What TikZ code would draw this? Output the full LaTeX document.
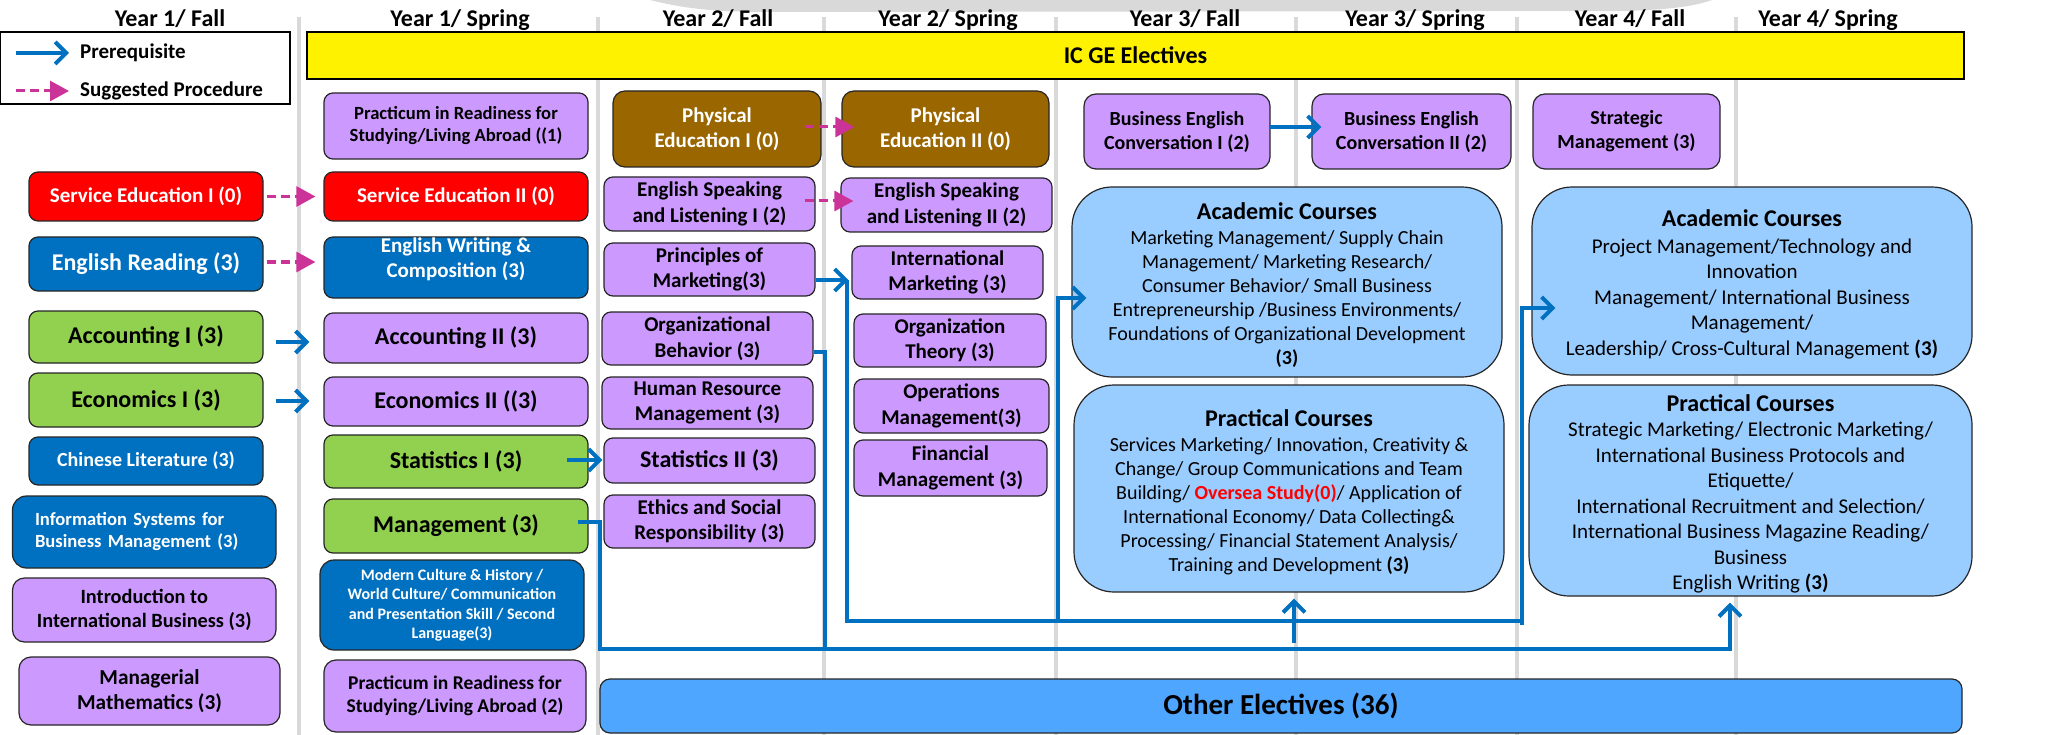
\documentclass[tikz,border=0pt]{standalone}
\usepackage{fontspec}
\setmainfont{Carlito}
\usetikzlibrary{arrows.meta}
\definecolor{cpurple}{RGB}{204,153,255}
\definecolor{cblue}{RGB}{0,112,192}
\definecolor{cgreen}{RGB}{146,208,80}
\definecolor{cred}{RGB}{255,0,0}
\definecolor{cbrown}{RGB}{153,102,0}
\definecolor{clight}{RGB}{153,204,255}
\definecolor{cother}{RGB}{79,166,255}
\definecolor{cmag}{RGB}{204,51,153}
\definecolor{cgrid}{RGB}{217,217,217}
\definecolor{cline}{RGB}{0,112,192}
\newcommand\fz[2]{\fontsize{#1}{#2}\selectfont}
\newcommand\ttl[1]{\rule{0pt}{24pt}{\fz{24}{29}\bfseries #1}}
\newcommand\bx[7]{%
 \pgfmathsetmacro\mybw{#4-#2}\pgfmathsetmacro\mybh{#5-#3}%
 \pgfmathsetmacro\mybcx{(#2+#4)/2}\pgfmathsetmacro\mybcy{(#3+#5)/2}%
 \node[#6, minimum width=\mybw pt, minimum height=\mybh pt] (#1) at (\mybcx,\mybcy) {#7};}
\tikzset{
 box/.style={draw=black!85, line width=1.2pt, rounded corners=9pt, align=center, inner sep=0pt},
 pur/.style={box, fill=cpurple, text=black},
 blu/.style={box, fill=cblue, text=white},
 grn/.style={box, fill=cgreen, text=black},
 rd/.style={box, fill=cred, text=white},
 brn/.style={box, fill=cbrown, text=white},
 big/.style={box, fill=clight, rounded corners=40pt},
 s16/.style={font=\fz{16}{19.5}\bfseries},
 s18/.style={font=\fz{18.6}{22}\bfseries},
 s19/.style={font=\fz{19.5}{23.5}\bfseries},
 s20/.style={font=\fz{20}{24}\bfseries},
 s21/.style={font=\fz{21}{25.5}\bfseries},
 s24/.style={font=\fz{24}{29}\bfseries},
 b20/.style={font=\fz{20}{24}\mdseries},
 b21/.style={font=\fz{21}{25.5}\mdseries},
 conn/.style={draw=cline, line width=4pt},
 pre/.style={conn, -{Straight Barb[length=11pt,width=22pt]}},
 sug/.style={draw=cmag, line width=3pt, dash pattern=on 9pt off 5pt, -{Triangle[length=19pt,width=20pt]}},
 hdr/.style={font=\fz{24}{29}\bfseries, anchor=base, inner sep=0pt},
 grid/.style={draw=cgrid, line width=3.5pt},
}
\begin{document}
\begin{tikzpicture}[x=1pt,y=-1pt]
\useasboundingbox (0,0) rectangle (2049,735);
\fill[white] (0,0) rectangle (2049,735);
% background decoration
\fill[cgrid] (650,0) .. controls (690,10) and (720,12) .. (780,12) -- (1620,11) .. controls (1670,10) and (1695,6) .. (1712,0) -- cycle;
\foreach \gx in {299,598,824,1056,1296,1517,1736} \draw[grid] (\gx,17) -- (\gx,735);

% headers
\node[hdr] (h1) at (170,27) {Year 1/ Fall};
\node[hdr] (h2) at (460,27) {Year 1/ Spring};
\node[hdr] (h3) at (718,27) {Year 2/ Fall};
\node[hdr] (h4) at (948,27) {Year 2/ Spring};
\node[hdr] (h5) at (1185,27) {Year 3/ Fall};
\node[hdr] (h6) at (1415,27) {Year 3/ Spring};
\node[hdr] (h7) at (1630,27) {Year 4/ Fall};
\node[hdr] (h8) at (1828,27) {Year 4/ Spring};

% legend
\bx{leg}{0}{32}{290}{104}{draw=black, line width=1.2pt, fill=white, inner sep=0pt}{}
\coordinate (lp1) at (16,53); \coordinate (lp2) at (69,53);
\coordinate (ls1) at (16,91); \coordinate (ls2) at (69,91);
\node[anchor=west, inner sep=0pt, font=\fz{21}{25}\bfseries] (lpt) at (80,53) {Prerequisite};
\node[anchor=west, inner sep=0pt, font=\fz{21}{25}\bfseries] (lst) at (80,91) {Suggested Procedure};

% IC GE bar
\bx{icge}{307}{32}{1964}{79}{draw=black, line width=2.7pt, fill=yellow, s24}{IC GE Electives}

% Year 1 Fall
\bx{svc1}{29}{172}{263}{221}{rd, s21}{Service Education I (0)}
\bx{engR}{29}{237}{263}{291}{blu, s24}{English Reading (3)}
\bx{acc1}{29}{311}{263}{363}{grn, s24}{Accounting I (3)}
\bx{eco1}{29}{373}{263}{427}{grn, s24}{Economics I (3)}
\bx{chi}{29}{437}{263}{485}{blu, font=\fz{20}{24}\bfseries}{Chinese Literature (3)}
\bx{info}{12.5}{496}{276}{568}{blu, s18, align=left, text width=218.5pt, rounded corners=14pt}{Information Systems for\\Business Management (3)}
\bx{intro}{12.5}{578}{276}{642}{pur, font=\fz{20.3}{24}\bfseries, rounded corners=12pt}{Introduction to\\International Business (3)}
\bx{math}{19}{657}{280}{725}{pur, font=\fz{21.3}{25}\bfseries, rounded corners=12pt}{Managerial\\Mathematics (3)}

% Year 1 Spring
\bx{prac1}{324}{93}{588}{159}{pur, s18}{Practicum in Readiness for\\Studying/Living Abroad ((1)}
\bx{svc2}{324}{172}{588}{221}{rd, s21}{Service Education II (0)}
\bx{engW}{324}{237}{588}{298}{blu, s21}{English Writing \&\\Composition (3)\\[-5.5pt]{}}
\bx{acc2}{324}{313}{588}{363}{pur, s24}{Accounting II (3)}
\bx{eco2}{324}{377}{588}{426}{pur, s24}{Economics II ((3)}
\bx{stat1}{324}{435}{588}{488}{grn, s24}{Statistics I (3)}
\bx{mgmt}{324}{499}{588}{553}{grn, s24}{Management (3)}
\bx{modern}{320}{560}{584}{650}{blu, s16, rounded corners=14pt}{Modern Culture \& History /\\World Culture/ Communication\\and Presentation Skill / Second\\Language(3)}
\bx{prac2}{324}{660}{586}{732}{pur, s19, rounded corners=12pt}{Practicum in Readiness for\\Studying/Living Abroad (2)}

% Year 2 Fall
\bx{pe1}{613}{91}{821}{167}{brn, s21, rounded corners=12pt}{Physical\\Education I (0)}
\bx{esl1}{604}{177}{815}{231}{pur, s21}{English Speaking\\and Listening I (2)}
\bx{pom}{604}{243}{815}{296}{pur, s21}{Principles of\\Marketing(3)}
\bx{ob}{602}{312}{813}{365}{pur, s21}{Organizational\\Behavior (3)}
\bx{hrm}{602}{377}{813}{429}{pur, s21}{Human Resource\\Management (3)}
\bx{stat2}{604}{438}{815}{483}{pur, s24}{Statistics II (3)}
\bx{eth}{604}{495}{815}{548}{pur, s21}{Ethics and Social\\Responsibility (3)}

% Year 2 Spring
\bx{pe2}{842}{91}{1049}{167}{brn, s21, rounded corners=12pt}{Physical\\Education II (0)}
\bx{esl2}{841}{178}{1052}{232}{pur, s21}{English Speaking\\and Listening II (2)}
\bx{im}{852}{246}{1043}{299}{pur, s21}{International\\Marketing (3)}
\bx{ot}{854}{314}{1046}{367}{pur, s21}{Organization\\Theory (3)}
\bx{om}{854}{379}{1049}{433}{pur, s21}{Operations\\Management(3)}
\bx{fm}{854}{440}{1047}{496}{pur, s21}{Financial\\Management (3)}

% Year 3 / Year 4
\bx{bec1}{1084}{94}{1270}{169}{pur, s20, rounded corners=12pt}{Business English\\Conversation I (2)}
\bx{bec2}{1312}{94}{1511}{169}{pur, s20, rounded corners=12pt}{Business English\\Conversation II (2)}
\bx{sm}{1533}{94}{1720}{169}{pur, s20, rounded corners=12pt}{Strategic\\Management (3)}

\bx{acad3}{1072}{187}{1502}{377}{big, b20}{\ttl{Academic Courses}\\[1pt]Marketing Management/ Supply Chain\\Management/ Marketing Research/\\Consumer Behavior/ Small Business\\Entrepreneurship /Business Environments/\\Foundations of Organizational Development\\\textbf{(3)}}
\bx{prac3}{1074}{385}{1504}{592}{big, b20}{\ttl{Practical Courses}\\[1pt]Services Marketing/ Innovation, Creativity \&\\Change/ Group Communications and Team\\Building/ \textcolor{cred}{\bfseries Oversea Study(0)}/ Application of\\International Economy/ Data Collecting\&\\Processing/ Financial Statement Analysis/\\Training and Development \textbf{(3)}}
\bx{acad4}{1532}{187}{1972}{375}{big, b21}{\ttl{Academic Courses}\\[1pt]Project Management/Technology and\\Innovation\\Management/ International Business\\Management/\\Leadership/ Cross-Cultural Management \textbf{(3)}}
\bx{prac4}{1529}{385}{1972}{596}{big, b21}{\ttl{Practical Courses}\\Strategic Marketing/ Electronic Marketing/\\International Business Protocols and\\Etiquette/\\International Recruitment and Selection/\\International Business Magazine Reading/\\Business\\English Writing \textbf{(3)}}

\bx{other}{600}{679}{1962}{733}{box, fill=cother, rounded corners=10pt, font=\fz{29}{34}\bfseries}{Other Electives (36)}

% legend arrows
\draw[pre] (lp1) -- (lp2);
\draw[sug] (ls1) -- (ls2);

% connectors
\draw[sug] ([xshift=3pt]svc1.east) -- ([xshift=-8pt]svc2.west);
\draw[sug] ([xshift=3pt,yshift=2pt]engR.east) -- ([xshift=-8pt,yshift=5.5pt]engW.west);
\draw[pre] ([xshift=12pt,yshift=-5pt]acc1.east) -- ([xshift=-14pt,yshift=-4pt]acc2.west);
\draw[pre] ([xshift=12pt,yshift=-1pt]eco1.east) -- ([xshift=-14pt,yshift=0.5pt]eco2.west);
\draw[pre] ([xshift=-22pt,yshift=1.5pt]stat1.east) -- ([xshift=-1pt,yshift=0.5pt]stat2.west);
\draw[sug] ([xshift=-17pt,yshift=2pt]pe1.east) -- ([xshift=13pt,yshift=2pt]pe2.west);
\draw[sug] ([xshift=-11pt,yshift=3pt]esl1.east) -- ([xshift=13pt,yshift=4pt]esl2.west);
\draw[pre] ([xshift=-2pt,yshift=4.5pt]bec1.east) -- ([xshift=10pt,yshift=4.5pt]bec2.west);

% Management and Organizational Behavior to Year 3/4 practical courses
\coordinate (m1) at (600,522); \coordinate (m2) at (600,649); \coordinate (e2) at (1730,649);
\coordinate (e3) at ([yshift=-6pt]prac4.south);
\draw[pre, line join=miter] ([xshift=-11pt,yshift=4pt]mgmt.east) -- (m1) -- (m2) -- (e2) -- (e2 |- e3);
\coordinate (o1) at (825,352); \coordinate (o2) at (825,649);
\draw[conn] ([yshift=-13.5pt]ob.east) -- (o1) -- (o2);
\coordinate (u3) at (1294,643);
\draw[pre] (u3) -- ([xshift=5pt,yshift=-6pt]prac3.south);

% Principles of Marketing to International Marketing and academic courses
\draw[pre] ([yshift=-10.5pt]pom.east) -- ([xshift=-3pt,yshift=-7.5pt]im.west);
\coordinate (p1) at (847,280); \coordinate (p2) at (847,621); \coordinate (p3) at (1522,621);
\draw[conn] (p1) -- (p2) -- (p3);
\coordinate (q3) at (1058,621); \coordinate (q3b) at (1058,298);
\draw[pre] (q3) -- (q3b) -- ([xshift=15pt,yshift=-16pt]acad3.west);
\coordinate (q4) at (1522,625); \coordinate (q4b) at (1522,308);
\draw[pre] (q4) -- (q4b) -- ([xshift=24pt,yshift=-27pt]acad4.west);
\end{tikzpicture}
\end{document}
